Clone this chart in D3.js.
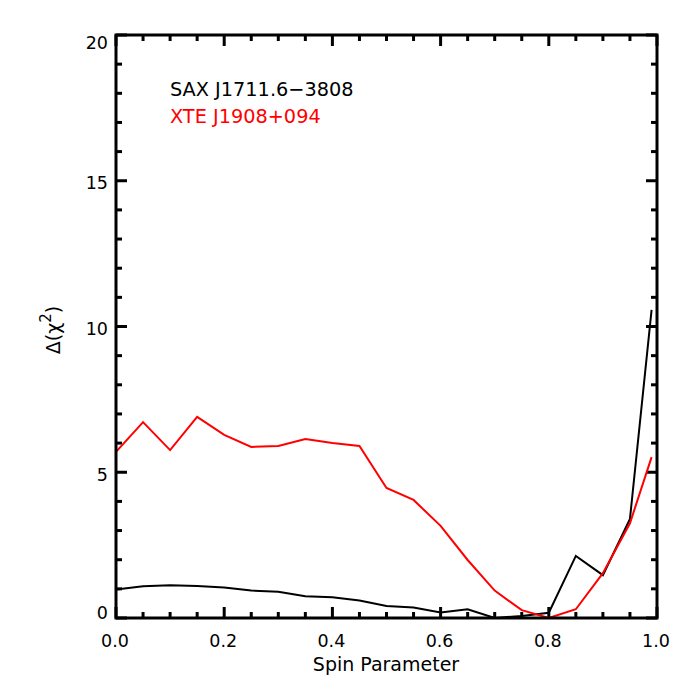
<!DOCTYPE html>
<html>
<head>
<meta charset="utf-8">
<script src="https://cdn.jsdelivr.net/npm/d3@7"></script>
<style>
  html, body { margin: 0; padding: 0; background: #fff; }
  svg { display: block; }
  text { font-family: "DejaVu Sans", sans-serif; }
</style>
</head>
<body>
<svg id="chart" width="692" height="692"></svg>
<script>
const spinValues = [0, 0.05, 0.1, 0.15, 0.2, 0.25, 0.3, 0.35, 0.4, 0.45, 0.5, 0.55, 0.6, 0.65, 0.7, 0.75, 0.8, 0.85, 0.9, 0.95, 0.99];
const saxValues = [0.98, 1.09, 1.12, 1.1, 1.05, 0.94, 0.9, 0.75, 0.71, 0.6, 0.41, 0.36, 0.19, 0.3, 0.0, 0.07, 0.18, 2.13, 1.47, 3.4, 10.57];
const xteValues = [5.7, 6.72, 5.76, 6.9, 6.28, 5.87, 5.9, 6.14, 6.0, 5.9, 4.46, 4.05, 3.16, 1.99, 0.94, 0.27, 0.0, 0.3, 1.54, 3.25, 5.52];
const seriesNames = ["SAX J1711.6\u22123808", "XTE J1908+094"];
const seriesColors = ["#000000", "#ff0000"];
const xMajorTicks = [0, 0.2, 0.4, 0.6, 0.8, 1.0];
const xMinorTicks = d3.range(0, 21).map(i => i * 0.05).filter(v => Math.abs(v * 5 - Math.round(v * 5)) > 1e-6);
const yMajorTicks = [0, 5, 10, 15, 20];
const yMinorTicks = d3.range(0, 21).filter(v => v % 5 !== 0);
const xLabel = "Spin Parameter";

const svg = d3.select("#chart");
const L = 116, R = 657, T = 35, B = 618;

const x = d3.scaleLinear().domain([0, 1]).range([L, R]);
const y = d3.scaleLinear().domain([0, 20]).range([B, T]);

// ticks
const majLen = 11, minLen = 6;
const tickG = svg.append("g").attr("stroke", "#000").attr("stroke-width", 3);
function drawTicks(vals, len) {
  vals.forEach(v => {
    tickG.append("line").attr("x1", x(v)).attr("x2", x(v)).attr("y1", B).attr("y2", B - len);
    tickG.append("line").attr("x1", x(v)).attr("x2", x(v)).attr("y1", T).attr("y2", T + len);
  });
}
function drawYTicks(vals, len) {
  vals.forEach(v => {
    tickG.append("line").attr("y1", y(v)).attr("y2", y(v)).attr("x1", L).attr("x2", L + len);
    tickG.append("line").attr("y1", y(v)).attr("y2", y(v)).attr("x1", R).attr("x2", R - len);
  });
}
drawTicks(xMajorTicks, majLen);
drawTicks(xMinorTicks, minLen);
drawYTicks(yMajorTicks, majLen);
drawYTicks(yMinorTicks, minLen);

// lines
const line = d3.line().x((d, i) => x(spinValues[i])).y(d => y(d));
[saxValues, xteValues].forEach((vals, k) => {
  svg.append("path").datum(vals)
    .attr("d", line)
    .attr("fill", "none")
    .attr("stroke", seriesColors[k])
    .attr("stroke-width", 2)
    .attr("stroke-linejoin", "miter");
});

// frame
svg.append("rect").attr("x", L).attr("y", T).attr("width", R - L).attr("height", B - T)
  .attr("fill", "none").attr("stroke", "#000").attr("stroke-width", 3);

// tick labels
svg.append("g").selectAll("text").data(xMajorTicks).join("text")
  .attr("x", d => x(d) - 1).attr("y", 647)
  .attr("text-anchor", "middle").attr("font-size", 17.5)
  .text(d => d.toFixed(1));

svg.append("g").selectAll("text").data(yMajorTicks).join("text")
  .attr("x", 108)
  .attr("y", d => Math.max(42.5, Math.min(613, y(d) + 2)) + 6.3)
  .attr("text-anchor", "end").attr("font-size", 17.5)
  .text(d => d);

// axis titles
svg.append("text").attr("x", 386).attr("y", 671).attr("text-anchor", "middle")
  .attr("font-size", 19).text(xLabel);

const yt = svg.append("text").attr("transform", "translate(60,330) rotate(-90)")
  .attr("text-anchor", "middle").attr("font-size", 19);
yt.append("tspan").text("\u0394(\u03c7");
yt.append("tspan").attr("dy", -9).attr("font-size", 15).text("2");
yt.append("tspan").attr("dy", 9).text(")");

// legend
seriesNames.forEach((n, k) => {
  svg.append("text").attr("x", 170).attr("y", 96 + k * 27)
    .attr("font-size", 19.3).attr("fill", seriesColors[k]).text(n);
});
</script>
</body>
</html>
